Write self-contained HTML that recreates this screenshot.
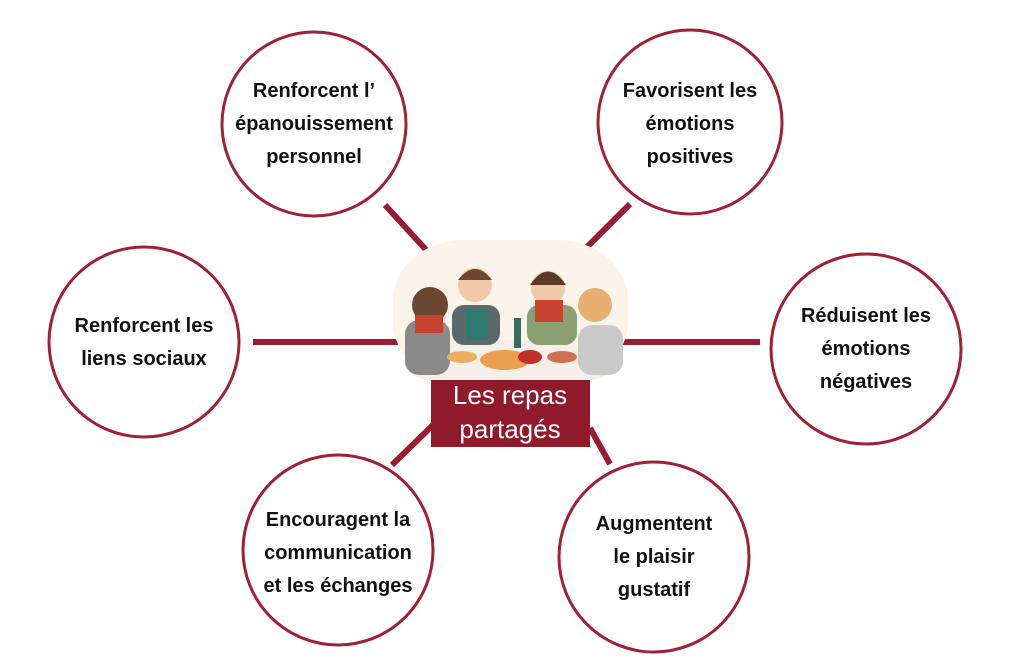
<!DOCTYPE html>
<html><head><meta charset="utf-8"><style>
html,body{margin:0;padding:0;background:#fff;width:1024px;height:662px;overflow:hidden}
svg text{font-family:"Liberation Sans",sans-serif;font-weight:bold;font-size:20px;fill:#111;text-anchor:middle}
</style></head><body>
<svg width="1024" height="662" viewBox="0 0 1024 662" xmlns="http://www.w3.org/2000/svg">
<g stroke="#9b1b30" stroke-width="6" stroke-linecap="butt">
<line x1="385" y1="205" x2="428" y2="252"/>
<line x1="630" y1="204" x2="586" y2="248"/>
<line x1="253" y1="342" x2="398" y2="342"/>
<line x1="622" y1="342" x2="760" y2="342"/>
<line x1="434" y1="424" x2="392" y2="465"/>
<line x1="590" y1="428" x2="610" y2="464"/>
</g>
<g fill="#fff" stroke="#9e2236" stroke-width="3">
<circle cx="314" cy="124" r="92"/>
<circle cx="690" cy="122" r="92"/>
<circle cx="144" cy="342" r="95"/>
<circle cx="866" cy="349" r="95"/>
<circle cx="338" cy="550" r="95"/>
<circle cx="654" cy="557" r="95"/>
</g>
<rect x="393" y="240" width="235" height="142" rx="70" ry="60" fill="#fbf4ea"/>
<g>
<ellipse cx="510" cy="365" rx="105" ry="25" fill="#f4efe8"/>
<circle cx="430" cy="305" r="18" fill="#6b4630"/>
<rect x="405" y="320" width="45" height="55" rx="14" fill="#8a8a8a"/>
<rect x="415" y="315" width="28" height="18" fill="#c8432f"/>
<circle cx="475" cy="285" r="17" fill="#f0c9a8"/>
<path d="M458 280 Q475 258 492 280 Z" fill="#6b4630"/>
<rect x="452" y="305" width="48" height="40" rx="12" fill="#5a6a6a"/>
<rect x="466" y="310" width="22" height="30" fill="#2f7a70"/>
<circle cx="548" cy="288" r="17" fill="#f0c9a8"/>
<path d="M530 285 Q548 258 566 285 Z" fill="#5a3a28"/>
<rect x="527" y="305" width="50" height="40" rx="12" fill="#8aa070"/>
<rect x="535" y="300" width="28" height="22" fill="#c8432f"/>
<circle cx="595" cy="305" r="17" fill="#e8b070"/>
<rect x="578" y="325" width="45" height="50" rx="14" fill="#c9c9c9"/>
<ellipse cx="505" cy="360" rx="25" ry="10" fill="#e9a050"/>
<ellipse cx="530" cy="357" rx="12" ry="7" fill="#c0302a"/>
<ellipse cx="462" cy="357" rx="15" ry="6" fill="#e8b060"/>
<ellipse cx="562" cy="357" rx="15" ry="6" fill="#d07050"/>
<rect x="514" y="318" width="7" height="30" fill="#3a6a5a"/>
</g>
<rect x="431" y="380" width="159" height="67" fill="#8e1a2c"/>
<text x="510" y="404" style="fill:#fff;font-weight:normal;font-size:26px">Les repas</text>
<text x="510" y="438" style="fill:#fff;font-weight:normal;font-size:26px">partagés</text>

<text x="314" y="97">Renforcent l’</text>
<text x="314" y="130">épanouissement</text>
<text x="314" y="163">personnel</text>

<text x="690" y="97">Favorisent les</text>
<text x="690" y="130">émotions</text>
<text x="690" y="163">positives</text>

<text x="144" y="332">Renforcent les</text>
<text x="144" y="365">liens sociaux</text>

<text x="866" y="322">Réduisent les</text>
<text x="866" y="355">émotions</text>
<text x="866" y="388">négatives</text>

<text x="338" y="526">Encouragent la</text>
<text x="338" y="559">communication</text>
<text x="338" y="592">et les échanges</text>

<text x="654" y="530">Augmentent</text>
<text x="654" y="563">le plaisir</text>
<text x="654" y="596">gustatif</text>
</svg>
</body></html>
